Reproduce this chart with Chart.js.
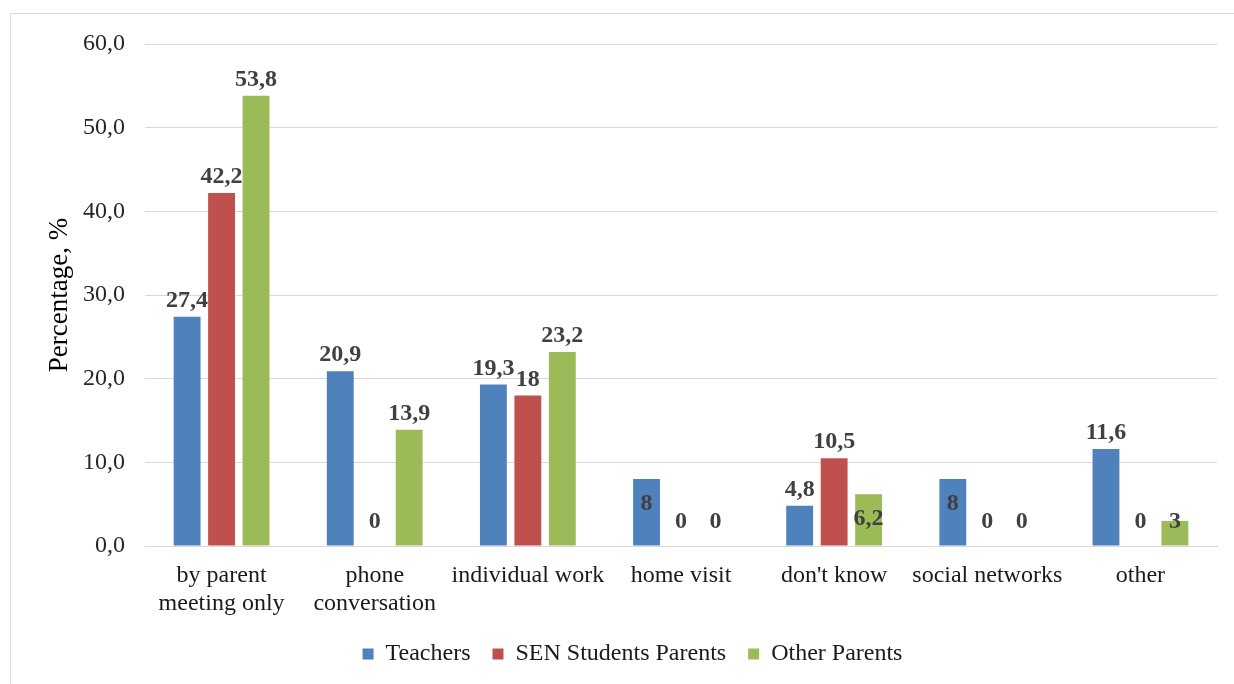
<!DOCTYPE html>
<html>
<head>
<meta charset="utf-8">
<script src="https://cdn.jsdelivr.net/npm/chart.js@4.4.0/dist/chart.umd.min.js"></script>
<style>
html,body{margin:0;padding:0;background:#fff;}
#frame{position:absolute;left:10px;top:13px;width:1300px;height:700px;border:1px solid #d9d9d9;box-sizing:border-box;}
#wrap{position:absolute;left:0;top:0;width:1234px;height:684px;}
</style>
</head>
<body>
<div id="frame"></div>
<div id="wrap"><canvas id="c" width="1234" height="684"></canvas></div>
<script>
const categories = [["by parent","meeting only"],["phone","conversation"],"individual work","home visit","don't know","social networks","other"];
const seriesNames = ["Teachers","SEN Students Parents","Other Parents"];
const teachers = [27.4, 20.9, 19.3, 8, 4.8, 8, 11.6];
const senParents = [42.2, 0, 18, 0, 10.5, 0, 0];
const otherParents = [53.8, 13.9, 23.2, 0, 6.2, 0, 3];
const yTicks = [0,10,20,30,40,50,60];
// label placement: 't' above bar, 'i' inside / near base
const labelModes = [
  ['t','t','t','i','t','i','t'],
  ['t','i','t','i','t','i','i'],
  ['t','t','t','i','i','i','i']
];
const colors = ['#4f81bd','#c0504d','#9bbb59'];

const fmt = v => String(v).replace('.', ',');

const labelPlugin = {
  id:'labels',
  afterLayout(chart){
    if (chart.legend) { chart.legend.left += 24; chart.legend.right += 24; }
  },
  afterDatasetsDraw(chart){
    const ctx = chart.ctx;
    const yScale = chart.scales.y;
    const base = yScale.getPixelForValue(0);
    ctx.save();
    ctx.font = 'bold 24px "Liberation Serif"';
    ctx.fillStyle = '#404040';
    ctx.textAlign = 'center';
    ctx.textBaseline = 'middle';
    chart.data.datasets.forEach((ds, di) => {
      const meta = chart.getDatasetMeta(di);
      meta.data.forEach((bar, i) => {
        const v = ds.data[i];
        let y;
        if (labelModes[di][i] === 't') {
          y = bar.y - 16;
        } else {
          y = Math.min(bar.y + 25, base - 24);
        }
        ctx.fillText(fmt(v), bar.x, y);
      });
    });
    ctx.restore();
  }
};

new Chart(document.getElementById('c'), {
  type:'bar',
  data:{
    labels: categories,
    datasets:[
      {label:seriesNames[0], data:teachers, backgroundColor:colors[0]},
      {label:seriesNames[1], data:senParents, backgroundColor:colors[1]},
      {label:seriesNames[2], data:otherParents, backgroundColor:colors[2]}
    ]
  },
  options:{
    responsive:false,
    animation:false,
    devicePixelRatio:1,
    categoryPercentage:0.675,
    barPercentage:0.78,
    layout:{padding:{left:0,right:17,top:44,bottom:8}},
    plugins:{
      legend:{
        position:'bottom',
        labels:{
          font:{family:'Liberation Serif', size:24},
          color:'#1a1a1a',
          boxWidth:11, boxHeight:11,
          padding:22
        }
      },
      tooltip:{enabled:false}
    },
    scales:{
      x:{
        afterFit(scale){ scale.height = 74; },
        grid:{display:false, drawTicks:false},
        border:{display:true, color:'#d9d9d9', width:1},
        ticks:{font:{family:'Liberation Serif', size:24, lineHeight:1.15}, color:'#1a1a1a', padding:16, maxRotation:0, autoSkip:false}
      },
      y:{
        min:0, max:60,
        afterBuildTicks(scale){ scale.ticks = yTicks.map(v=>({value:v})); },
        afterFit(scale){ scale.width = 145; },
        grid:{color:'#d9d9d9', drawTicks:false, lineWidth:1},
        border:{display:false},
        ticks:{font:{family:'Liberation Serif', size:24}, color:'#262626', padding:20, callback:v=>v.toFixed(1).replace('.',',')},
        title:{display:true, text:'Percentage, %', font:{family:'Liberation Serif', size:27}, color:'#000', padding:{top:44,bottom:0}}
      }
    }
  },
  plugins:[labelPlugin]
});
</script>
</body>
</html>
